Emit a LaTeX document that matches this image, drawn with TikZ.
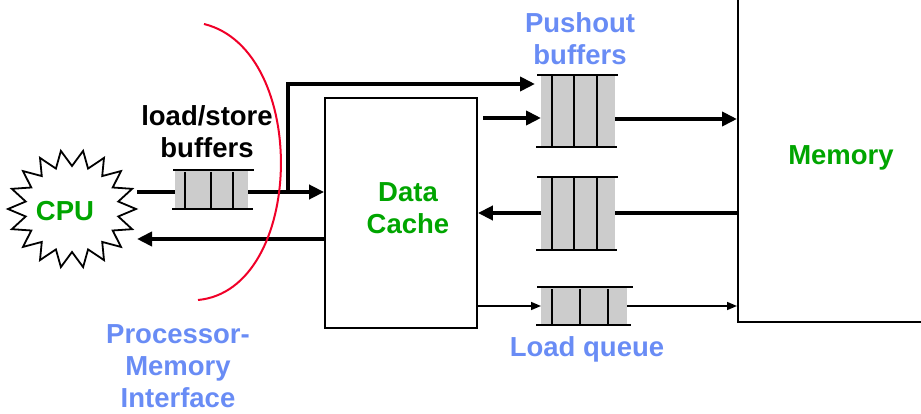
\documentclass[tikz,border=0pt]{standalone}
\usepackage{fontspec}
\setmainfont{Liberation Sans}
\usetikzlibrary{arrows.meta,shapes.geometric}
\definecolor{tgreen}{RGB}{0,165,0}
\definecolor{tblue}{RGB}{105,140,245}
\definecolor{tred}{RGB}{240,0,40}
\definecolor{qgray}{RGB}{204,204,204}
\begin{document}
\begin{tikzpicture}[x=1pt,y=-1pt,
  lbl/.style={font=\fontsize{27.5}{33}\selectfont\bfseries, align=center, inner sep=0},
  thickarrow/.style={line width=4.5pt, -{Triangle[length=15pt,width=14pt]}},
  thinarrow/.style={line width=1.6pt, -{Triangle[length=10pt,width=8pt]}},
  thickline/.style={line width=4.5pt},
  qbox/.style={fill=qgray, draw=none, inner sep=0},
  qline/.style={line width=2.5pt},
  boxline/.style={line width=1.8pt}]
\useasboundingbox (0,0) rectangle (921,414);
\clip (0,0) rectangle (921,414);
% CPU starburst
\draw[line width=1.8pt, fill=white]
  plot[samples at={0,...,35}, variable=\k]
  ({72+(mod(\k,2)==0 ? 64 : 47)*cos(\k*10)}, {209+(mod(\k,2)==0 ? 59 : 43)*sin(\k*10)}) -- cycle;
\node[lbl, text=tgreen] (cpu) at (65,211) {CPU};
% Data cache
\node[draw, boxline, minimum width=152, minimum height=230, inner sep=0] (cache) at (401,213) {};
\node[lbl, text=tgreen] at (408,208) {Data\\[-1pt]Cache};
% Memory
\node[draw, boxline, minimum width=220, minimum height=360, inner sep=0, anchor=south west] (mem) at (737,323) {};
\node[lbl, text=tgreen] at (841,158) {Memory};
% load/store buffer
\node[qbox, minimum width=73, minimum height=39, anchor=north west] (lsb) at (175,170) {};
\draw[qline] (173,170) -- (254,170) (172,209) -- (253,209);
\foreach \x in {185,211,233} \draw[qline] (\x,172) -- (\x,209);
\node[lbl] at (207,132) {load/store\\[-1pt]buffers};
% pushout buffer 1
\node[qbox, minimum width=74, minimum height=72, anchor=north west] (pb1) at (541,75) {};
\draw[qline] (537,75) -- (618,75) (536,147) -- (617,147);
\foreach \x in {552,574,597} \draw[qline] (\x,75) -- (\x,147);
% pushout buffer 2
\node[qbox, minimum width=74, minimum height=73, anchor=north west] (pb2) at (541,177) {};
\draw[qline] (537,177) -- (618,177) (536,250) -- (617,250);
\foreach \x in {552,574,597} \draw[qline] (\x,177) -- (\x,250);
% load queue
\node[qbox, minimum width=86, minimum height=38, anchor=north west] (lq) at (541,287) {};
\draw[qline] (537,287) -- (633,287) (536,325) -- (631,325);
\foreach \x in {552,580,608} \draw[qline] (\x,289) -- (\x,325);
\node[lbl, text=tblue] at (580,39) {Pushout\\[-1pt]buffers};
\node[lbl, text=tblue] at (587,349) {Load queue};
\node[lbl, text=tblue] at (178,366) {Processor-\\[-1pt]Memory\\[-1pt]Interface};
% connectors
\coordinate (cpuout) at (137,192);
\coordinate (cpuin) at (137,239);
\coordinate (branch) at (288,192);
\coordinate (topc) at (288,84);
\draw[thickline] (cpuout) -- (lsb.west |- cpuout);
\draw[thickarrow] (lsb.east |- cpuout) -- (cache.west |- cpuout);
\draw[thickarrow] (branch) -- (topc) -- (535,84);
\draw[thickarrow] (cache.west |- cpuin) -- (cpuin);
\draw[thickarrow] (483,118) -- (pb1.west |- 0,118);
\draw[thickarrow] (pb1.east |- 0,119) -- (mem.west |- 0,119);
\draw[thickline] (mem.west |- 0,213) -- (pb2.east |- 0,213);
\draw[thickarrow] (pb2.west |- 0,213) -- (cache.east |- 0,213);
\draw[thinarrow] (cache.east |- 0,306) -- (lq.west |- 0,306);
\draw[thinarrow] (lq.east |- 0,306) -- (mem.west |- 0,306);
% red interface arc
\draw[tred, line width=2pt] (204,24) .. controls (310,50) and (305,290) .. (198,300);
\end{tikzpicture}
\end{document}
